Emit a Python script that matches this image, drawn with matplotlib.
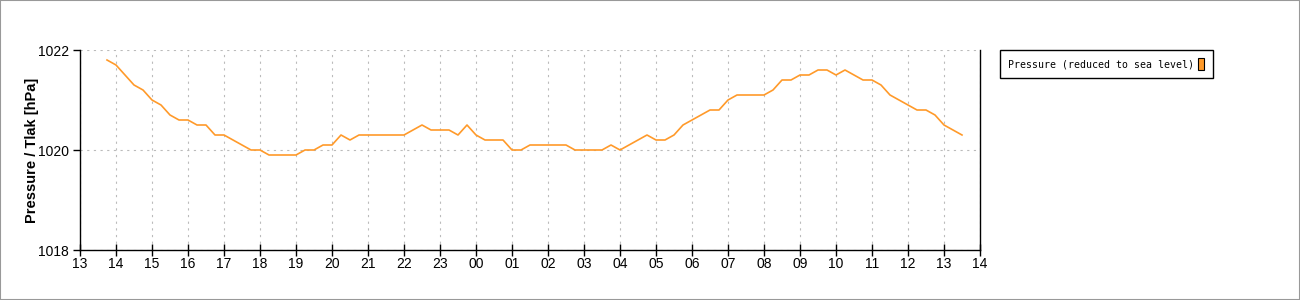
import numpy as np
import matplotlib
matplotlib.use("Agg")
import matplotlib.pyplot as plt
from matplotlib.patches import Patch, Rectangle
from matplotlib.ticker import FuncFormatter, MultipleLocator

# 15-minute readings, starting 13:45 (hours past midnight of day 1)
start_hour = 13.75
step_hours = 0.25
pressure = [
    1021.8, 1021.7, 1021.5, 1021.3, 1021.2, 1021.0, 1020.9, 1020.7, 1020.6, 1020.6,
    1020.5, 1020.5, 1020.3, 1020.3, 1020.2, 1020.1, 1020.0, 1020.0, 1019.9, 1019.9,
    1019.9, 1019.9, 1020.0, 1020.0, 1020.1, 1020.1, 1020.3, 1020.2, 1020.3, 1020.3,
    1020.3, 1020.3, 1020.3, 1020.3, 1020.4, 1020.5, 1020.4, 1020.4, 1020.4,
    1020.3, 1020.5, 1020.3, 1020.2, 1020.2, 1020.2, 1020.0, 1020.0, 1020.1, 1020.1,
    1020.1, 1020.1, 1020.1, 1020.0, 1020.0, 1020.0, 1020.0, 1020.1, 1020.0, 1020.1,
    1020.2, 1020.3, 1020.2, 1020.2, 1020.3, 1020.5, 1020.6, 1020.7, 1020.8, 1020.8,
    1021.0, 1021.1, 1021.1, 1021.1, 1021.1, 1021.2, 1021.4, 1021.4, 1021.5, 1021.5,
    1021.6, 1021.6, 1021.5, 1021.6, 1021.5, 1021.4, 1021.4, 1021.3, 1021.1, 1021.0,
    1020.9, 1020.8, 1020.8, 1020.7, 1020.5, 1020.4, 1020.3,
]
hours = start_hour + step_hours * np.arange(len(pressure))

x_range = (13, 38)
y_ticks = [1018, 1020, 1022]
series_name = "Pressure (reduced to sea level)"
line_color = "#ff9a2a"

fig = plt.figure(figsize=(13, 3), dpi=100)
fig.patches.append(Rectangle((0, 0), 1, 1, transform=fig.transFigure,
                             fill=False, edgecolor="#999999", linewidth=1.5))

ax = fig.add_axes([80 / 1300, 50 / 300, 900 / 1300, 200 / 300])
ax.plot(hours, pressure, color=line_color, linewidth=1.2)

ax.set_xlim(*x_range)
ax.set_ylim(y_ticks[0], y_ticks[-1])
ax.set_yticks(y_ticks)
ax.xaxis.set_major_locator(MultipleLocator(1))
ax.xaxis.set_major_formatter(FuncFormatter(
    lambda v, p: f"{int(round(v)) % 24:02d}"))

ax.grid(True, color="#bbbbbb", linestyle=(0, (2, 4)), linewidth=0.8)
ax.spines["top"].set_visible(False)
for s in ("left", "bottom", "right"):
    ax.spines[s].set_linewidth(1.0)
ax.tick_params(axis="x", direction="inout", length=8, width=1, labelsize=10, pad=1)
ax.tick_params(axis="y", direction="out", length=5, width=1, labelsize=10, pad=3)
for lab in ax.get_xticklabels() + ax.get_yticklabels():
    lab.set_family("Liberation Sans")

ax.set_ylabel("Pressure / Tlak [hPa]", fontsize=10.5, fontweight="bold",
              family="Liberation Sans", labelpad=-1)

handle = Patch(facecolor=line_color, edgecolor="black", linewidth=0.8)
leg = fig.legend([handle], [series_name], loc="upper left",
                 bbox_to_anchor=(1000 / 1300, 1 - 50 / 300),
                 markerfirst=False, fancybox=False, framealpha=1,
                 edgecolor="black", handlelength=0.6, handleheight=1.4,
                 handletextpad=0.4, borderpad=0.85, borderaxespad=0,
                 prop={"family": "DejaVu Sans Mono", "size": 7.1})
leg.get_frame().set_linewidth(1.0)

fig.savefig("out.png", dpi=100)
